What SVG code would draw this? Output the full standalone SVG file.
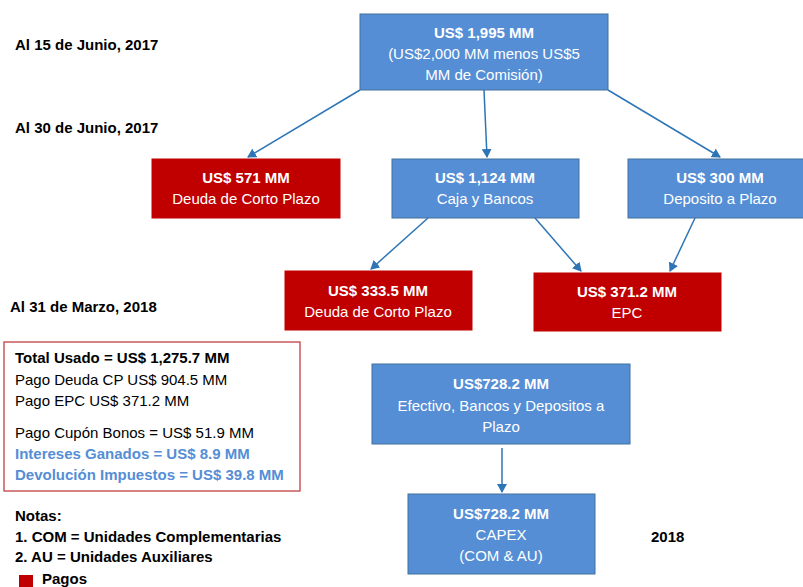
<svg xmlns="http://www.w3.org/2000/svg" width="803" height="587" viewBox="0 0 803 587">
<defs>
<marker id="ah" markerWidth="10" markerHeight="10" refX="8" refY="5" orient="auto" markerUnits="userSpaceOnUse">
<path d="M0,0 L9,5 L0,10 Z" fill="#2E75B6"/>
</marker>
<style>
.blue{fill:#558ED5;stroke:#41719C;stroke-width:1}
.red{fill:#C00000;stroke:#C00000;stroke-width:1}
.t{font-family:"Liberation Sans",Arial,sans-serif;font-size:15px;fill:#fff;text-anchor:middle}
.b{font-weight:bold}
.k{font-family:"Liberation Sans",Arial,sans-serif;font-size:15px;fill:#000}
.conn{stroke:#2E75B6;stroke-width:1.5;fill:none;marker-end:url(#ah)}
</style>
</defs>
<rect width="803" height="587" fill="#fff"/>
<g id="labels">
<text class="k b" x="15" y="50">Al 15 de Junio, 2017</text>
<text class="k b" x="15" y="133">Al 30 de Junio, 2017</text>
<text class="k b" x="10" y="312">Al 31 de Marzo, 2018</text>
<text class="k b" x="651" y="542">2018</text>
</g>
<g id="connectors">
<line class="conn" x1="360" y1="90" x2="248" y2="157"/>
<line class="conn" x1="484" y1="90" x2="487" y2="157"/>
<line class="conn" x1="608" y1="90" x2="720" y2="157"/>
<line class="conn" x1="428" y1="218" x2="371" y2="269"/>
<line class="conn" x1="535" y1="218" x2="581" y2="271"/>
<line class="conn" x1="695" y1="218" x2="670" y2="271"/>
<line class="conn" x1="502" y1="448" x2="502" y2="492"/>
</g>
<g id="n_top">
<rect class="blue" x="360" y="14" width="248" height="76"/>
<text class="t b" x="484" y="38">US$ 1,995 MM</text>
<text class="t" x="484" y="59">(US$2,000 MM menos US$5</text>
<text class="t" x="484" y="80">MM de Comisión)</text>
</g>
<g id="n_deuda1">
<rect class="red" x="152" y="159" width="188" height="59"/>
<text class="t b" x="246" y="183">US$ 571 MM</text>
<text class="t" x="246" y="204">Deuda de Corto Plazo</text>
</g>
<g id="n_caja">
<rect class="blue" x="392" y="159" width="187" height="59"/>
<text class="t b" x="485" y="183">US$ 1,124 MM</text>
<text class="t" x="485" y="204">Caja y Bancos</text>
</g>
<g id="n_deposito">
<rect class="blue" x="628" y="159" width="180" height="59"/>
<text class="t b" x="720" y="183">US$ 300 MM</text>
<text class="t" x="720" y="204">Deposito a Plazo</text>
</g>
<g id="n_deuda2">
<rect class="red" x="285" y="271" width="187" height="59"/>
<text class="t b" x="378" y="296">US$ 333.5 MM</text>
<text class="t" x="378" y="317">Deuda de Corto Plazo</text>
</g>
<g id="n_epc">
<rect class="red" x="534" y="273" width="187" height="58"/>
<text class="t b" x="627" y="297">US$ 371.2 MM</text>
<text class="t" x="627" y="318">EPC</text>
</g>
<g id="n_efectivo">
<rect class="blue" x="372" y="364" width="258" height="80"/>
<text class="t b" x="501" y="389">US$728.2 MM</text>
<text class="t" x="501" y="411">Efectivo, Bancos y Depositos a</text>
<text class="t" x="501" y="432">Plazo</text>
</g>
<g id="n_capex">
<rect class="blue" x="408" y="494" width="187" height="80"/>
<text class="t b" x="501" y="519">US$728.2 MM</text>
<text class="t" x="501" y="540">CAPEX</text>
<text class="t" x="501" y="561">(COM &amp; AU)</text>
</g>
<g id="n_summary">
<rect x="4" y="342" width="296" height="149" fill="#fff" stroke="#C9595A" stroke-width="1.5"/>
<text class="k b" x="15" y="363">Total Usado = US$ 1,275.7 MM</text>
<text class="k" x="15" y="385">Pago Deuda CP US$ 904.5 MM</text>
<text class="k" x="15" y="406">Pago EPC US$ 371.2 MM</text>
<text class="k" x="15" y="438">Pago Cupón Bonos = US$ 51.9 MM</text>
<text class="k b" x="15" y="459" style="fill:#558ED5">Intereses Ganados = US$ 8.9 MM</text>
<text class="k b" x="15" y="480" style="fill:#558ED5">Devolución Impuestos = US$ 39.8 MM</text>
</g>
<g id="notes">
<text class="k b" x="15" y="521">Notas:</text>
<text class="k b" x="15" y="542">1. COM = Unidades Complementarias</text>
<text class="k b" x="15" y="562">2. AU = Unidades Auxiliares</text>
<rect x="19" y="575" width="14" height="12" fill="#C00000"/>
<text class="k b" x="42" y="584">Pagos</text>
</g>
</svg>
